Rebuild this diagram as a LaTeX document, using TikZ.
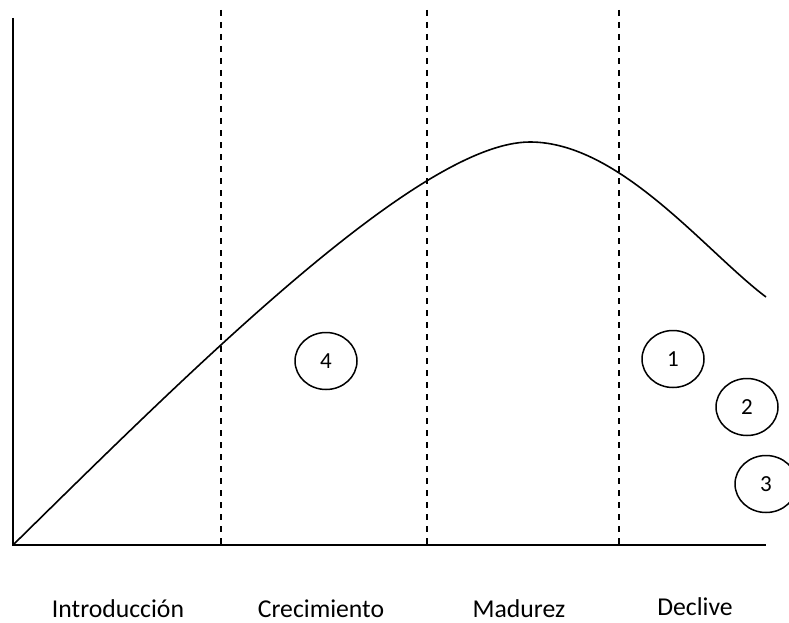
\documentclass[tikz,border=0pt]{standalone}
\usepackage{fontspec}
\setmainfont{Carlito}
\usetikzlibrary{shapes.geometric}

\begin{document}
\begin{tikzpicture}[
        x=1pt, y=-1pt,
        eje/.style={
            line width=1.8pt,
            draw=black
        },
        division/.style={
            line width=1.8pt,
            draw=black,
            dash pattern=on 6pt off 6pt
        },
        curva/.style={
            line width=1.6pt,
            draw=black
        },
        etapa/.style={
            inner sep=0pt,
            anchor=base,
            font=\fontsize{25.7pt}{30pt}\selectfont
        },
        producto/.style={
            ellipse,
            draw=black,
            line width=1.5pt,
            minimum width=62pt,
            minimum height=57pt,
            inner sep=0pt,
            font=\fontsize{23pt}{27pt}\selectfont
        }
    ]
        \useasboundingbox (0,0) rectangle (789,623);
        \clip (0,0) rectangle (789,623);

        \coordinate (origen) at (13,545);
        \coordinate (techo) at (13,18);
        \coordinate (fin) at (766,545);
        \draw[eje] (techo) -- (origen) -- (fin);

        \coordinate (d1a) at (221,10);
        \coordinate (d1b) at (221,548);
        \coordinate (d2a) at (427,10);
        \coordinate (d2b) at (427,548);
        \coordinate (d3a) at (619,10);
        \coordinate (d3b) at (619,548);
        \draw[division] (d1a) -- (d1b);
        \draw[division] (d2a) -- (d2b);
        \draw[division] (d3a) -- (d3b);

        \coordinate (cima) at (530,142);
        \coordinate (cola) at (766,297);
        \draw[curva] (origen) .. controls (193,368) and (420,142) .. (cima)
            .. controls (620,142) and (706,252) .. (cola);

        \node[producto] (p4) at (326,361) {4};
        \node[producto] (p1) at (673,359) {1};
        \node[producto] (p2) at (747,407) {2};
        \node[producto] (p3) at (766,484) {3};

        \node[etapa] (intro) at (118,617) {Introducción};
        \node[etapa] (crec) at (321,617) {Crecimiento};
        \node[etapa] (madu) at (519,617) {Madurez};
        \node[etapa] (decl) at (695,615) {Declive};
    \end{tikzpicture}
\end{document}
